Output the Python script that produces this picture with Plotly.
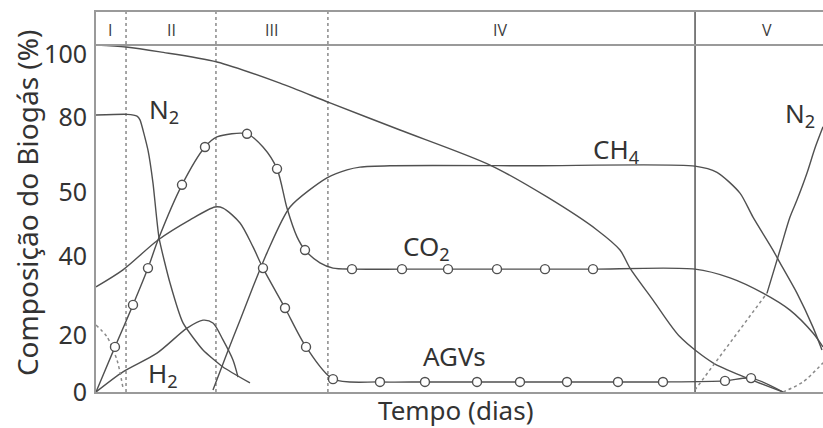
import plotly.graph_objects as go

# ---------------- data (x: tempo, arbitrary 0-100; y: composição %) ----------------
TOTAL_X = [0, 4.13, 8.80, 16.64, 25.31, 32.19, 41.82, 54.20, 62.04, 68.91, 72.08, 73.45, 76.62, 80.33, 84.87, 89.55, 94.50]
TOTAL_Y = [100, 99.4, 98.0, 95.1, 89.0, 83.3, 75.5, 65.4, 56.2, 46.7, 40.9, 35.7, 26.5, 15.9, 8.4, 4.0, 0]

N2A_X = [0, 4.26, 5.64, 6.05, 7.15, 7.84, 8.67, 10.18, 11.97, 14.72, 17.47, 21.18]
N2A_Y = [79.8, 80.0, 79.5, 78.4, 69.7, 60.2, 44.4, 31.4, 19.9, 12.1, 7.2, 2.6]

CO2_X = [0, 2.61, 5.09, 7.15, 8.53, 11.83, 14.99, 16.64, 20.77, 22.97, 24.90, 26.27, 27.65, 28.75, 30.81, 32.60,
         35.21, 42.09, 48.42, 55.16, 61.76, 68.36, 82.39, 87.21, 91.75, 95.46, 98.62, 100]
CO2_Y = [0, 13.0, 25.1, 35.7, 43.8, 59.7, 70.6, 73.5, 74.4, 70.6, 64.3, 53.0, 44.7, 40.9, 37.2, 35.7,
         35.4, 35.4, 35.4, 35.4, 35.4, 35.4, 35.4, 32.9, 28.5, 23.6, 17.0, 13.0]
CO2_MX = [2.61, 5.09, 7.15, 11.83, 14.99, 20.77, 24.90, 28.75, 35.21, 42.09, 48.42, 55.16, 61.76, 68.36]
CO2_MY = [13.0, 25.1, 35.7, 59.7, 70.6, 74.4, 64.3, 40.9, 35.4, 35.4, 35.4, 35.4, 35.4, 35.4]

AGV_X = [0, 3.71, 8.53, 12.93, 16.37, 17.47, 19.81, 21.60, 22.97, 26.00, 28.89, 32.60, 39.06, 45.25, 52.41,
         58.32, 64.79, 71.80, 77.99, 86.52, 90.10, 94.50]
AGV_Y = [30.3, 35.2, 43.8, 49.6, 53.3, 53.0, 48.7, 41.8, 35.7, 24.2, 13.0, 3.7, 2.9, 2.9, 2.9,
         2.9, 2.9, 2.9, 2.9, 3.2, 4.0, 0]
AGV_MX = [22.97, 26.00, 28.89, 32.60, 39.06, 45.25, 52.41, 58.32, 64.79, 71.80, 77.99, 86.52, 90.10]
AGV_MY = [35.7, 24.2, 13.0, 3.7, 2.9, 2.9, 2.9, 2.9, 2.9, 2.9, 2.9, 3.2, 4.0]

H2_X = [0, 3.71, 8.39, 12.52, 14.72, 16.09, 17.47, 18.84, 19.53]
H2_Y = [0, 5.8, 11.2, 18.4, 20.7, 19.9, 15.0, 9.2, 4.3]

O2A_X = [0, 1.51, 2.89, 3.71]
O2A_Y = [19.3, 15.9, 9.2, 1.2]

CH4_X = [16.09, 18.02, 19.81, 21.60, 23.52, 26.69, 31.77, 34.53, 36.31, 40.44, 60.0, 82.39, 85.42, 88.58, 90.37,
         93.12, 94.09, 96.42, 98.62, 99.86]
CH4_Y = [0.6, 11.2, 20.7, 30.3, 40.1, 53.3, 61.7, 64.0, 64.8, 65.2, 65.2, 65.1, 63.3, 57.3, 50.4,
         40.9, 37.2, 28.5, 18.7, 12.1]

N2B_DOT_X = [82.39, 92.30]
N2B_DOT_Y = [0.6, 28.5]
N2B_X = [92.30, 94.09, 95.46, 96.42, 97.80, 98.90, 100]
N2B_Y = [28.5, 40.9, 50.4, 55.3, 63.1, 70.3, 76.4]

O2B_X = [94.50, 97.25, 100]
O2B_Y = [0, 2.9, 8.4]

PHASE_BOUNDS = [4.13, 16.5, 31.9, 82.4]
PHASE_NAMES = ["I", "II", "III", "IV", "V"]
PHASE_LABEL_X = [1.93, 10.45, 24.2, 55.6, 92.3]

TICK_LABELS = ["0", "20", "40", "50", "80", "100"]

CURVE_LABELS = ["N<sub>2</sub>", "CH<sub>4</sub>", "CO<sub>2</sub>", "AGVs", "H<sub>2</sub>", "N<sub>2</sub>"]
CURVE_LABEL_X = [9.3, 71.6, 45.5, 49.3, 9.2, 96.8]
CURVE_LABEL_Y = [81.3, 69.7, 41.8, 10.3, 5.2, 80.0]

# ---------------- figure ----------------
LINE = "#505050"
DOT = "#8a8a8a"
AXIS = "#9a9a9a"
TXT = "#333333"
FONT = "Noto Sans"

fig = go.Figure()

def curve(x, y, color=LINE, dash="solid", width=1.4, spline=True, smoothing=0.8):
    fig.add_trace(go.Scatter(x=x, y=y, mode="lines",
                             line=dict(color=color, width=width, dash=dash,
                                       shape="spline" if spline else "linear", smoothing=smoothing),
                             hoverinfo="skip", showlegend=False))

def markers(x, y):
    fig.add_trace(go.Scatter(x=x, y=y, mode="markers",
                             marker=dict(symbol="circle", size=9, color="white",
                                         line=dict(color=LINE, width=1.4)),
                             hoverinfo="skip", showlegend=False))

curve(TOTAL_X, TOTAL_Y)
curve(N2A_X, N2A_Y, smoothing=0.5)
curve(CO2_X, CO2_Y)
curve(AGV_X, AGV_Y)
curve(H2_X, H2_Y)
curve(O2A_X, O2A_Y, color=DOT, dash="dot", width=1.5)
curve(CH4_X, CH4_Y, smoothing=0.7)
curve(N2B_DOT_X, N2B_DOT_Y, color=DOT, dash="dot", width=1.5, spline=False)
curve(N2B_X, N2B_Y)
curve(O2B_X, O2B_Y, color=DOT, dash="dot", width=1.5)
markers(CO2_MX, CO2_MY)
markers(AGV_MX, AGV_MY)

YTOP = 109.5
shapes = []
for i, xb in enumerate(PHASE_BOUNDS):
    if i == len(PHASE_BOUNDS) - 1:
        shapes.append(dict(type="line", x0=xb, x1=xb, y0=0, y1=YTOP, xref="x", yref="y",
                           line=dict(color="#555555", width=1.5), layer="below"))
    else:
        shapes.append(dict(type="line", x0=xb, x1=xb, y0=0, y1=YTOP, xref="x", yref="y",
                           line=dict(color=DOT, width=1.5, dash="dot"), layer="below"))
shapes.append(dict(type="line", x0=0, x1=100, y0=100, y1=100, xref="x", yref="y",
                   line=dict(color=AXIS, width=2)))

annotations = []
for name, xl in zip(PHASE_NAMES, PHASE_LABEL_X):
    annotations.append(dict(x=xl, y=104.4, xref="x", yref="y", text=name, showarrow=False,
                            font=dict(family="Open Sans", size=16, color="#3c3c3c")))
for t, xl, yl in zip(CURVE_LABELS, CURVE_LABEL_X, CURVE_LABEL_Y):
    annotations.append(dict(x=xl, y=yl, xref="x", yref="y", text=t, showarrow=False,
                            font=dict(family=FONT, size=26, color=TXT)))
annotations.append(dict(x=-0.095, y=0.497, xref="paper", yref="paper", text="Composição do Biogás (%)",
                        textangle=-90, showarrow=False, xanchor="center", yanchor="middle",
                        font=dict(family=FONT, size=28, color=TXT)))
annotations.append(dict(x=0.494, y=-0.047, xref="paper", yref="paper", text="Tempo (dias)",
                        showarrow=False, xanchor="center", yanchor="middle",
                        font=dict(family=FONT, size=26, color=TXT)))

fig.update_layout(
    width=823, height=428,
    margin=dict(l=96, r=0, t=12, b=36),
    paper_bgcolor="white", plot_bgcolor="white",
    showlegend=False,
    shapes=shapes,
    annotations=annotations,
    xaxis=dict(range=[0, 100], showgrid=False, zeroline=False, showticklabels=False, ticks="",
               showline=True, linecolor=AXIS, linewidth=2, mirror=True),
    yaxis=dict(range=[0, YTOP], showgrid=False, zeroline=False, ticks="",
               showline=True, linecolor=AXIS, linewidth=2,
               tickmode="array", tickvals=[0, 16.4, 39.2, 57.6, 79.3, 97.4], ticktext=TICK_LABELS,
               tickfont=dict(family=FONT, size=25, color=TXT), ticklabelstandoff=2),
)

fig.write_html("out.html")
